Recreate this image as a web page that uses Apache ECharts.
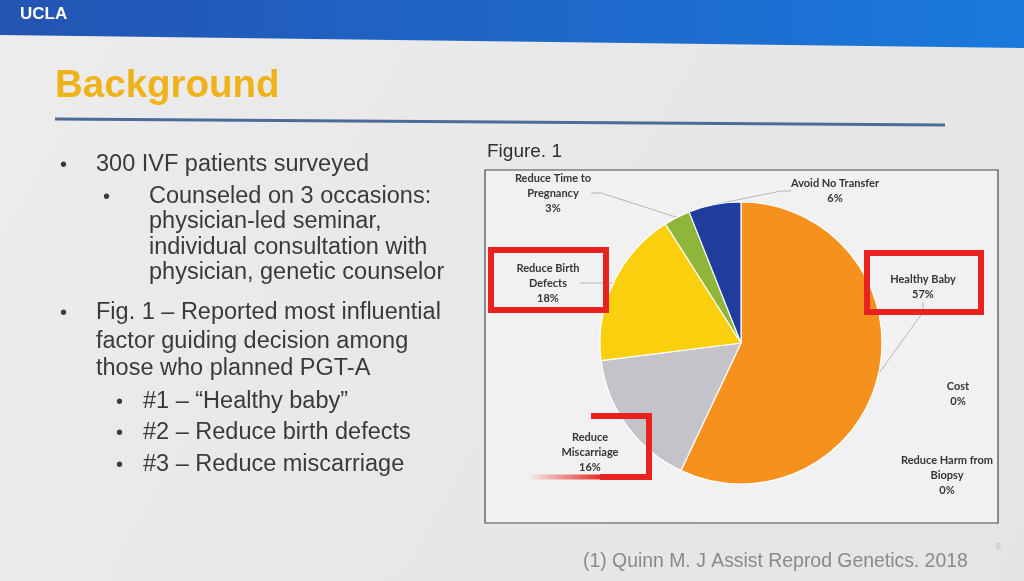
<!DOCTYPE html>
<html>
<head>
<meta charset="utf-8">
<script src="https://cdn.jsdelivr.net/npm/echarts@6/dist/echarts.min.js"></script>
<style>
html,body{margin:0;padding:0;background:#e8e8e8;}
#chart{width:1024px;height:581px;}
</style>
</head>
<body>
<div id="chart"></div>
<script>
// ---- data ----
const categories = ['Healthy Baby', 'Reduce Miscarriage', 'Reduce Birth Defects', 'Reduce Time to Pregnancy', 'Avoid No Transfer', 'Cost', 'Reduce Harm from Biopsy'];
const shares = [57, 16, 18, 3, 6, 0, 0];
const labelNames = ['Healthy Baby', 'Reduce\nMiscarriage', 'Reduce Birth\nDefects', 'Reduce Time to\nPregnancy', 'Avoid No Transfer', 'Cost', 'Reduce Harm from\nBiopsy'];
const sliceColors = ['#f6911d', '#c3c3c9', '#f9cf0e', '#8fb53a', '#1f3d9d', '#7f7f7f', '#5b9bd5'];
const slideTitle = 'Background';
const bulletLines = [
  ['300 IVF patients surveyed', 0],
  ['Counseled on 3 occasions:', 1],
  ['physician-led seminar,', -1],
  ['individual consultation with', -1],
  ['physician, genetic counselor', -1],
  ['Fig. 1 \u2013 Reported most influential', 0],
  ['factor guiding decision among', -2],
  ['those who planned PGT-A', -2],
  ['#1 \u2013 \u201cHealthy baby\u201d', 2],
  ['#2 \u2013 Reduce birth defects', 2],
  ['#3 \u2013 Reduce miscarriage', 2]
];
const figureLabel = 'Figure. 1';
const citation = '(1) Quinn M. J Assist Reprod Genetics. 2018';

// ---- layout (positions only) ----
const lineY = [165, 197, 222, 248, 273, 313, 342, 369, 402, 433, 465];
const labelAt = [[923, 287], [590, 452], [548, 283], [553, 193], [835, 191], [958, 394], [947, 475]];
const showLeader = [true, false, true, true, true, false, false];

const chart = echarts.init(document.getElementById('chart'), null, {renderer: 'canvas'});

const graphics = [];
graphics.push({type: 'rect', z: -20, shape: {x: 0, y: 0, width: 1024, height: 581},
  style: {fill: {type: 'linear', x: 0, y: 0, x2: 1, y2: 1, colorStops: [{offset: 0, color: '#ececec'}, {offset: 1, color: '#e4e4e4'}]}}});
graphics.push({type: 'polygon', z: -19, shape: {points: [[0, 0], [1024, 0], [1024, 48], [0, 35]]},
  style: {fill: {type: 'linear', x: 0, y: 0, x2: 1, y2: 0, colorStops: [{offset: 0, color: '#2354b2'}, {offset: 1, color: '#1a79dd'}]}}});
graphics.push({type: 'text', z: -18, x: 20, y: 14, style: {text: 'UCLA', fill: '#ffffff', font: 'bold 17px "Liberation Sans", Arial', verticalAlign: 'middle'}});
graphics.push({type: 'text', z: -18, x: 55, y: 86, style: {text: slideTitle, fill: '#efb21a', font: 'bold 38.5px "Liberation Sans", Arial', verticalAlign: 'middle'}});
graphics.push({type: 'line', z: -18, shape: {x1: 55, y1: 119, x2: 945, y2: 125}, style: {stroke: '#4d6b98', lineWidth: 3}});

bulletLines.forEach((b, i) => {
  const lvl = b[1];
  let tx, bx = null;
  if (lvl === 0) { tx = 96; bx = 60; }
  else if (lvl === 1) { tx = 149; bx = 103; }
  else if (lvl === -1) { tx = 149; }
  else if (lvl === -2) { tx = 96; }
  else { tx = 143; bx = 116; }
  if (bx !== null) {
    graphics.push({type: 'text', z: -18, x: bx, y: lineY[i], style: {text: '\u2022', fill: '#3a3a3a', font: '20px "Liberation Sans", Arial', verticalAlign: 'middle'}});
  }
  graphics.push({type: 'text', z: -18, x: tx, y: lineY[i], style: {text: b[0], fill: '#3a3a3a', font: '23.5px "Liberation Sans", Arial', verticalAlign: 'middle'}});
});

graphics.push({type: 'text', z: -18, x: 487, y: 152, style: {text: figureLabel, fill: '#303030', font: '19px "Liberation Sans", Arial', verticalAlign: 'middle'}});
graphics.push({type: 'rect', z: -17, shape: {x: 485, y: 170, width: 513, height: 353},
  style: {fill: '#f1f1f1', stroke: '#4a4a4a', lineWidth: 1.2}});
graphics.push({type: 'text', z: -18, x: 583, y: 562, style: {text: citation, fill: '#8a8a8a', font: '19.4px "Liberation Sans", Arial', verticalAlign: 'middle'}});
graphics.push({type: 'text', z: -18, x: 996, y: 547, style: {text: '6', fill: '#bdbdbd', font: '9px "Liberation Sans", Arial', verticalAlign: 'middle'}});

// red annotation boxes
graphics.push({type: 'rect', z: 100, shape: {x: 867, y: 253, width: 114, height: 59}, style: {fill: 'none', stroke: '#e8221e', lineWidth: 6}});
graphics.push({type: 'rect', z: 100, shape: {x: 491, y: 250, width: 115, height: 60}, style: {fill: 'none', stroke: '#e8221e', lineWidth: 6}});
graphics.push({type: 'polyline', z: 100, shape: {points: [[591, 416], [649, 416], [649, 477], [600, 477]]}, style: {stroke: '#e8221e', lineWidth: 6, fill: 'none'}});
graphics.push({type: 'line', z: 100, shape: {x1: 530, y1: 477, x2: 601, y2: 477},
  style: {lineWidth: 5, stroke: {type: 'linear', x: 0, y: 0, x2: 1, y2: 0, global: false, colorStops: [{offset: 0, color: 'rgba(232,34,30,0)'}, {offset: 1, color: 'rgba(232,34,30,1)'}]}}});

const pieData = categories.map((c, i) => ({
  name: c,
  value: shares[i],
  itemStyle: {color: sliceColors[i], borderWidth: shares[i] === 0 ? 0 : 1.2, borderColor: '#ffffff'},
  labelLine: {show: showLeader[i]}
}));

chart.setOption({
  animation: false,
  backgroundColor: 'transparent',
  graphic: graphics,
  series: [{
    type: 'pie',
    center: [741, 343],
    radius: 141,
    startAngle: 90,
    clockwise: true,
    avoidLabelOverlap: false,
    data: pieData,
    label: {
      show: true,
      position: 'outside',
      formatter: p => labelNames[p.dataIndex] + '\n' + Math.round(p.percent) + '%',
      fontFamily: 'Lato',
      fontWeight: 'bold',
      fontSize: 11,
      lineHeight: 15,
      color: '#363636',
      align: 'center'
    },
    labelLine: {show: true, length: 10, length2: 10, lineStyle: {color: '#a6a6a6', width: 0.8}},
    labelLayout: function (params) {
      const p = labelAt[params.dataIndex];
      return {x: p[0], y: p[1], align: 'center', verticalAlign: 'middle', hideOverlap: false};
    },
    emphasis: {disabled: true}
  }]
});
</script>
</body>
</html>
